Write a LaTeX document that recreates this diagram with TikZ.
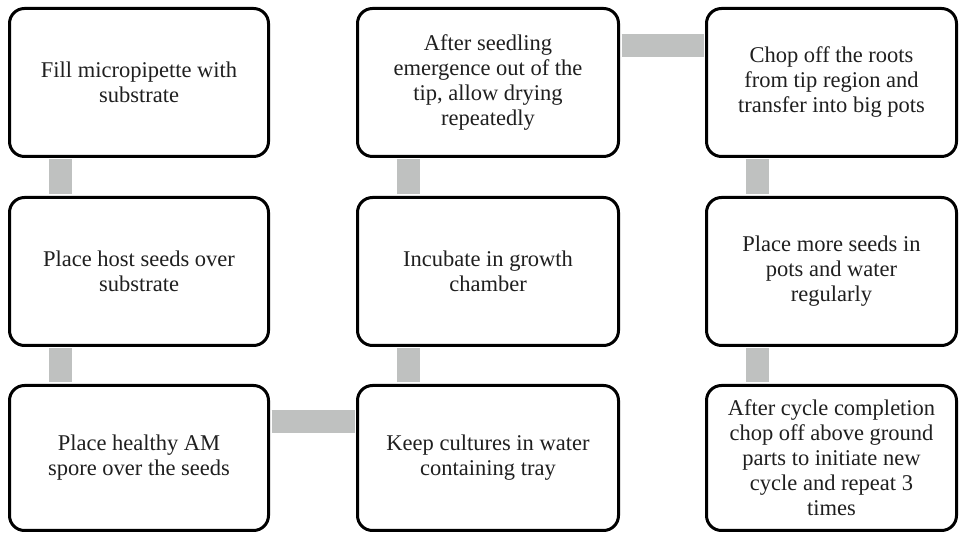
\documentclass[tikz,border=0pt]{standalone}
\usepackage{fontspec}
\setmainfont{Liberation Serif}
\usetikzlibrary{calc}
\definecolor{linkgray}{HTML}{BFC1C0}
\begin{document}
\begin{tikzpicture}[x=1pt,y=1pt,
  stepbox/.style={draw=black, fill=white, line width=3pt, rounded corners=15pt,
    inner sep=0pt, align=center, text=black!88,
    font=\fontsize{22.5}{25}\selectfont},
  colA/.style={stepbox, minimum width=259pt},
  colB/.style={stepbox, minimum width=261pt},
  colC/.style={stepbox, minimum width=250pt},
  link/.style={draw=linkgray, line width=23pt}]
\useasboundingbox (0,0) rectangle (962,535);

% process steps
\node[colA, minimum height=148pt] (fill) at (139,452.5) {Fill micropipette with\\substrate};
\node[colA, minimum height=148pt] (host) at (139,263.5) {Place host seeds over\\substrate};
\node[colA, minimum height=145pt] (spore) at (139,77) {Place healthy AM\\spore over the seeds};
\node[colB, minimum height=145pt] (tray) at (488,77) {Keep cultures in water\\containing tray};
\node[colB, minimum height=148pt] (incub) at (488,263.5) {Incubate in growth\\chamber};
\node[colB, minimum height=148pt] (dry) at (488,452.5) {After seedling\\emergence out of the\\tip, allow drying\\repeatedly};
\node[colC, minimum height=148pt] (chop) at (831.5,452.5) {Chop off the roots\\from tip region and\\transfer into big pots};
\node[colC, minimum height=148pt] (pots) at (831.5,263.5) {Place more seeds in\\pots and water\\regularly};
\node[colC, minimum height=145pt] (cycle) at (831.5,77) {After cycle completion\\chop off above ground\\parts to initiate new\\cycle and repeat 3\\times};

% connecting bars between the boxes
\path[link] ($(fill.south west)+(52,-1.5)$) -- ($(host.north west)+(52,1.5)$);
\path[link] ($(host.south west)+(52,-1.5)$) -- ($(spore.north west)+(52,1.5)$);
\path[link] ($(spore.north east)+(1.5,-37.5)$) -- ($(tray.north west)+(-1.5,-37.5)$);
\path[link] ($(tray.north west)+(52.5,1.5)$) -- ($(incub.south west)+(52.5,-1.5)$);
\path[link] ($(incub.north west)+(52.5,1.5)$) -- ($(dry.south west)+(52.5,-1.5)$);
\path[link] ($(dry.north east)+(1.5,-38.5)$) -- ($(chop.north west)+(-1.5,-38.5)$);
\path[link] ($(chop.south west)+(52.5,-1.5)$) -- ($(pots.north west)+(52.5,1.5)$);
\path[link] ($(pots.south west)+(52.5,-1.5)$) -- ($(cycle.north west)+(52.5,1.5)$);
\end{tikzpicture}
\end{document}
